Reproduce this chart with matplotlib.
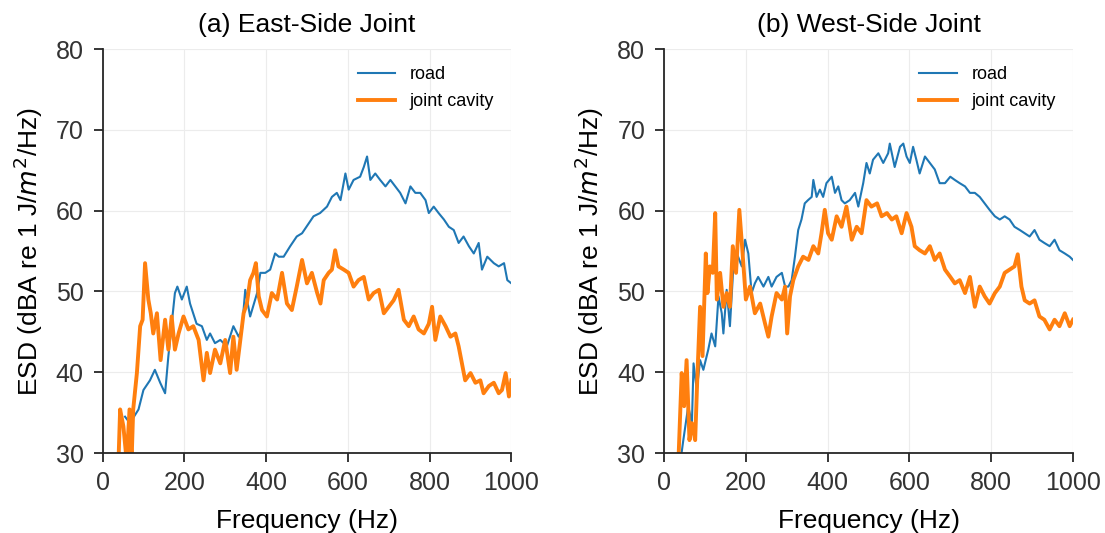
import matplotlib
matplotlib.use('Agg')
import matplotlib.pyplot as plt

plt.rcParams['font.family'] = ['Liberation Sans', 'DejaVu Sans']

# East-side joint
e_road_f = [55, 67, 88, 100, 116, 128, 141, 153, 161, 177, 183, 194, 206, 214, 230, 243, 255, 263, 275, 288,
            304, 320, 333, 341, 349, 361, 378, 386, 398, 410, 422, 431, 443, 459, 475, 488, 504, 516, 532, 549,
            561, 573, 582, 594, 602, 614, 630, 639, 647, 655, 667, 679, 692, 704, 716, 728, 741, 753, 765, 777,
            790, 798, 810, 822, 835, 847, 859, 871, 883, 896, 908, 920, 928, 941, 957, 969, 982, 990, 1000]
e_road_db = [34.5, 33.7, 35.4, 37.8, 39, 40.3, 38.7, 37.4, 42, 49.8, 50.6, 49, 50.6, 48.5, 46, 45.7, 44, 44.8, 43.6, 44,
             43.2, 45.7, 44.4, 45.3, 50.2, 46.9, 49.8, 52.3, 52.3, 52.7, 54.7, 54.3, 54.3, 55.6, 56.8, 57.2, 58.4, 59.3, 59.7, 60.5,
             61.7, 62.2, 61.3, 64.6, 62.6, 63.8, 64.2, 65.4, 66.7, 63.8, 64.6, 63.8, 63, 63.8, 63, 62.2, 60.9, 63, 62.2, 62.2,
             61.3, 59.7, 60.5, 59.7, 58.9, 58, 57.6, 56, 56.8, 55.6, 54.7, 56, 52.7, 54.3, 53.5, 53.1, 53.5, 51.4, 51]

e_cav_f = [39, 43, 51, 59, 66, 71, 75, 84, 92, 98, 104, 112, 118, 124, 133, 142, 153, 161, 169, 177,
           186, 198, 210, 222, 235, 247, 255, 263, 275, 288, 300, 312, 320, 328, 337, 345, 353, 361, 369, 375,
           382, 390, 402, 414, 427, 439, 451, 463, 475, 488, 500, 512, 525, 533, 541, 553, 561, 569, 577, 590,
           602, 614, 626, 639, 651, 663, 676, 688, 700, 712, 724, 737, 749, 761, 773, 786, 798, 806, 814, 826,
           839, 851, 863, 871, 879, 887, 900, 912, 924, 932, 945, 957, 969, 977, 986, 994, 1000]
e_cav_db = [29, 35.4, 33.3, 29, 35.4, 29, 35.4, 39.9, 45.7, 46.5, 53.5, 49, 47.3, 44.8, 47.3, 41.5, 46.5, 42.8, 46.9, 42.8,
            44.8, 46.9, 45.3, 45.7, 44, 39, 42.4, 39.9, 42.8, 41.1, 44, 39.9, 44.4, 40.3, 44, 47.3, 48.5, 51.4, 52.3, 53.5,
            49.4, 47.7, 46.9, 49.8, 49, 52.3, 48.5, 47.7, 50.6, 53.9, 51, 52.3, 49.8, 48.5, 51.4, 52.3, 52.7, 55.1, 53.1, 52.7,
            52.3, 50.6, 51.4, 51.8, 49, 49.8, 50.2, 47.3, 48.1, 48.9, 50.2, 46.5, 45.7, 46.9, 45.3, 44.8, 46, 48.1, 44, 46.9,
            45.7, 44.4, 44.8, 43.2, 41.1, 39, 39.9, 38.7, 39, 37.4, 38.3, 38.7, 37.4, 37.8, 39.9, 37, 39]

# West-side joint
w_road_f = [40, 47, 59, 68, 72, 80, 88, 96, 108, 116, 125, 133, 141, 145, 153, 161, 169, 178, 190, 198,
            206, 214, 222, 230, 243, 255, 263, 275, 288, 296, 304, 312, 320, 328, 336, 344, 352, 361, 365, 373,
            381, 389, 397, 410, 418, 426, 434, 442, 454, 467, 475, 487, 495, 503, 511, 524, 536, 548, 552, 564,
            577, 585, 593, 601, 609, 617, 625, 638, 650, 662, 674, 687, 700, 711, 723, 736, 748, 760, 772, 784,
            796, 809, 821, 833, 845, 857, 870, 882, 894, 906, 918, 930, 943, 955, 967, 980, 992, 1000]
w_road_db = [29, 31.6, 35.8, 33.7, 41.1, 37.8, 41.5, 40.3, 42.8, 44.8, 43.2, 49.4, 47.3, 44.8, 50.2, 45.7, 52.7, 54.7, 53.1, 56.4,
             54.7, 49.8, 51, 51.8, 50.6, 51.8, 50.6, 51.8, 52.3, 50.6, 50.6, 51.4, 54.3, 57.6, 58.9, 60.9, 61.3, 61.7, 63.8, 61.7,
             62.6, 61.7, 63.4, 64.2, 62.2, 63, 61.3, 60.9, 61.3, 62.2, 60.5, 63.4, 65.9, 64.6, 66.3, 67.1, 65.9, 67.1, 68.3, 65.4,
             67.9, 68.3, 66.7, 65.9, 67.9, 66.3, 64.6, 66.7, 65.9, 65.1, 63.4, 63.4, 64.2, 63.8, 63.4, 63, 62.2, 62.2, 61.7, 60.9,
             60.1, 59.3, 58.9, 59.3, 58.9, 58, 57.6, 57.2, 56.8, 57.6, 56.4, 56, 55.6, 56.4, 55.1, 54.7, 54.3, 53.9]

w_cav_f = [35, 43, 49, 55, 62, 68, 76, 81, 88, 94, 102, 106, 112, 119, 125, 129, 137, 145, 153, 161,
           168, 176, 184, 192, 200, 210, 222, 235, 247, 255, 263, 275, 288, 296, 301, 308, 316, 328, 340, 353,
           365, 377, 385, 393, 401, 410, 422, 434, 446, 459, 471, 483, 495, 507, 521, 532, 545, 557, 568, 581,
           593, 605, 613, 625, 638, 650, 662, 674, 687, 700, 711, 723, 736, 748, 760, 772, 784, 796, 809, 821,
           833, 845, 857, 865, 874, 882, 894, 906, 918, 930, 943, 955, 967, 980, 992, 1000]
w_cav_db = [29, 39.9, 35.8, 41.5, 31.6, 33.7, 31.6, 39, 48.1, 42, 54.7, 49.8, 53.1, 52.3, 59.7, 49, 52.3, 48.1, 49.8, 48.1,
            55.6, 52.3, 60.1, 54.7, 49, 50.6, 47.3, 48.5, 46, 44.4, 46.9, 49.8, 49, 50.6, 44.8, 49.4, 51.4, 53.1, 54.3, 53.9,
            55.6, 54.7, 57.2, 60.1, 57.2, 56.4, 59.3, 58, 60.5, 56.4, 58, 57.2, 61.3, 60.5, 60.9, 59.3, 59.7, 58.9, 59.3, 57.2,
            59.7, 58, 55.6, 55.1, 54.7, 55.6, 53.9, 54.7, 52.7, 51.8, 51, 51.4, 49.8, 51.8, 48.1, 50.6, 49.4, 48.5, 49.8, 50.6,
            52.3, 52.7, 53.1, 54.6, 50.6, 48.9, 48.5, 48.9, 46.9, 46.5, 45.3, 46.5, 45.7, 47.3, 45.7, 46.5]

panels = [
    ('(a) East-Side Joint', e_road_f, e_road_db, e_cav_f, e_cav_db),
    ('(b) West-Side Joint', w_road_f, w_road_db, w_cav_f, w_cav_db),
]

fig = plt.figure(figsize=(11.05, 5.33), dpi=100)
lefts = [0.0928, 0.601]

for left, (title, rf, rdb, cf, cdb) in zip(lefts, panels):
    ax = fig.add_axes([left, 0.150, 0.370, 0.758])
    ax.plot(rf, rdb, color='#1f77b4', lw=1.5, label='road')
    ax.plot(cf, cdb, color='#ff7f0e', lw=2.8, label='joint cavity')
    ax.set_xlim(0, 1000)
    ax.set_ylim(30, 80)
    ax.set_xticks([0, 200, 400, 600, 800, 1000])
    ax.set_yticks([30, 40, 50, 60, 70, 80])
    ax.grid(True, color='#ececec', lw=0.8)
    ax.set_axisbelow(True)
    for s in ['top', 'right']:
        ax.spines[s].set_visible(False)
    for s in ['left', 'bottom']:
        ax.spines[s].set_color('#262626')
        ax.spines[s].set_linewidth(1.3)
    ax.tick_params(direction='out', length=6.5, width=1.3, color='#262626',
                   labelsize=18, labelcolor='#333333')
    ax.tick_params(axis='x', pad=6.5)
    ax.tick_params(axis='y', pad=7)
    ax.set_title(title, fontsize=19, pad=12.5)
    ax.set_xlabel('Frequency (Hz)', fontsize=19, labelpad=10)
    ax.set_ylabel('ESD (dBA re 1 J/$m^2$/Hz)', fontsize=19, labelpad=8)
    ax.legend(loc='upper left', bbox_to_anchor=(0.606, 0.975), borderaxespad=0,
              frameon=False, fontsize=13, handlelength=2.1, handletextpad=0.8,
              labelspacing=0.55)

fig.savefig('out.png', dpi=100)
